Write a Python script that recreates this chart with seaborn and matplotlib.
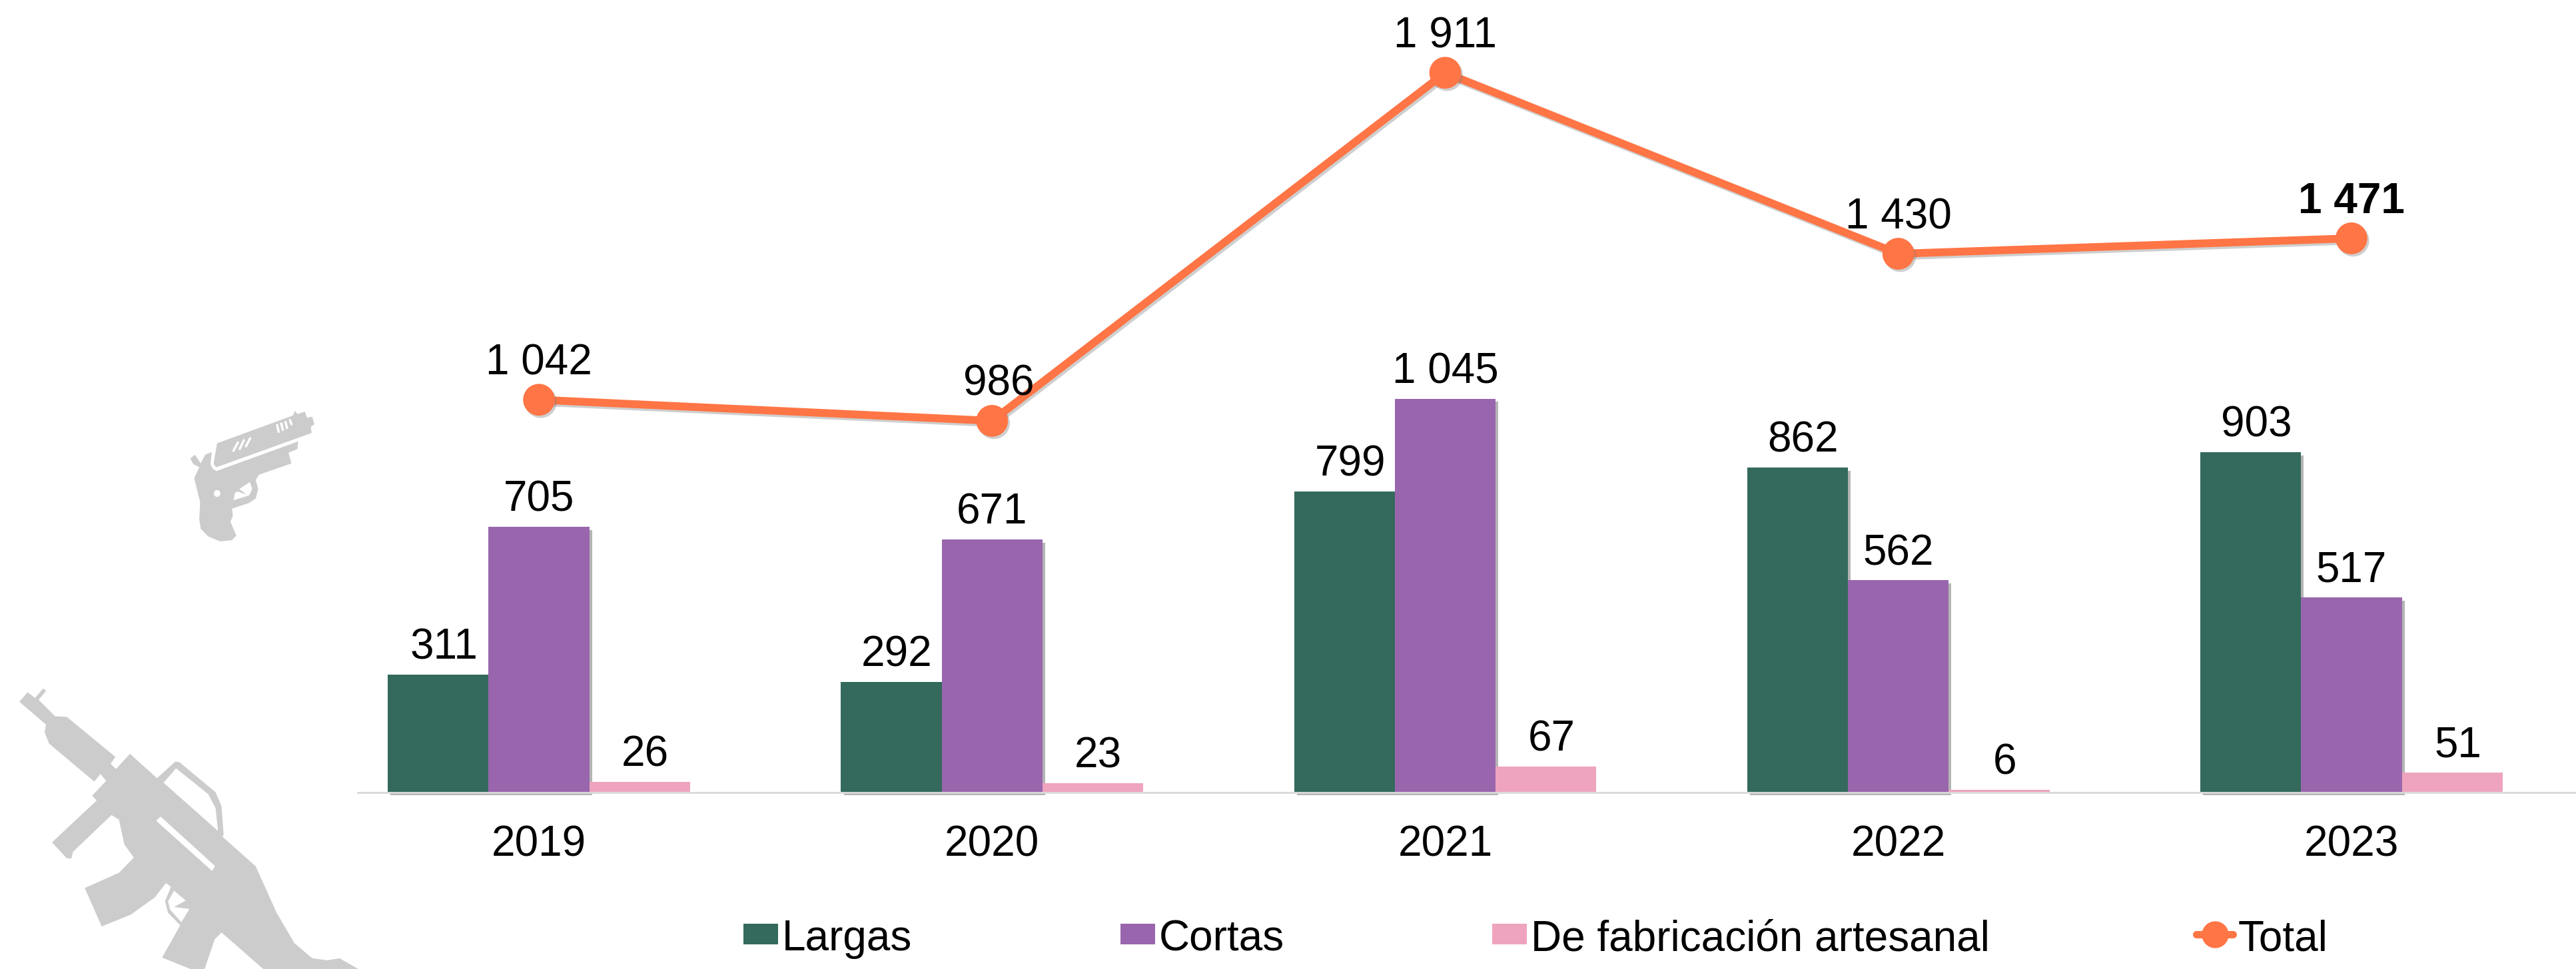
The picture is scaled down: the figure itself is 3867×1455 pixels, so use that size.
"""
plot.py
Armas por tipo, 2019-2023: grouped bars plus total line, with two grey gun icons.
"""
import pandas as pd
import matplotlib
matplotlib.use("Agg")
import matplotlib.pyplot as plt
import matplotlib.patheffects as pe
from matplotlib.lines import Line2D
from matplotlib.patches import Polygon, Ellipse, Rectangle
from matplotlib.transforms import Affine2D
import seaborn as sns

years = ["2019", "2020", "2021", "2022", "2023"]
largas = [311, 292, 799, 862, 903]
cortas = [705, 671, 1045, 562, 517]
artesanal = [26, 23, 67, 6, 51]
total = [1042, 986, 1911, 1430, 1471]
series_names = ["Largas", "Cortas", "De fabricación artesanal"]

GREEN, PURPLE, PINK, ORANGE = "#336A5C", "#9966AE", "#EEA4BF", "#FF7545"
ICON = "#CCCCCC"
W, H, DPI = 3867, 1455, 100

sns.set_theme(style="white")
plt.rcParams["font.family"] = ["Liberation Sans", "DejaVu Sans"]
FS = 46


def fmt(v):
    return f"{v:,}".replace(",", " ")


fig = plt.figure(figsize=(W / DPI, H / DPI), dpi=DPI)
# axes run from x=469 to just past the right edge, baseline at y=1189 px
ax = fig.add_axes([469 / W, (H - 1189) / H, (W - 469 + 3) / W, 1189 / H])

long_df = pd.DataFrame({"year": years, "Largas": largas, "Cortas": cortas,
                        "De fabricación artesanal": artesanal}).melt(
    id_vars="year", var_name="tipo", value_name="n")
sns.barplot(data=long_df, x="year", y="n", hue="tipo", hue_order=series_names,
            palette=[GREEN, PURPLE, PINK], width=0.667, gap=0, saturation=1,
            errorbar=None, legend=False, edgecolor="none", linewidth=0, ax=ax)
sns.pointplot(x=years, y=total, color=ORANGE, errorbar=None, markers="o",
              markersize=28, linewidth=8.5, ax=ax)

ax.set_xlim(-0.5, 4.5)
ax.set_ylim(0, 1189 / 0.565)
ax.set_xlabel("")
ax.set_ylabel("")
ax.set_yticks([])
ax.tick_params(axis="x", length=0, labelsize=FS, pad=35, colors="black")
sns.despine(ax=ax, left=True, top=True, right=True)
ax.spines["bottom"].set_color("#D9D9D9")
ax.spines["bottom"].set_linewidth(2)
ax.spines["bottom"].set_position(("outward", 1))
ax.spines["bottom"].set_bounds(-0.4, 4.5)

# soft-ish drop shadow on the two tall series
shadow = [pe.SimplePatchShadow(offset=(3, -3.5), shadow_rgbFace="#777777", alpha=0.55), pe.Normal()]
for cont in ax.containers[:2]:
    for b in cont:
        b.set_path_effects(shadow)
        b.set_clip_on(False)
ax.lines[0].set_path_effects([pe.SimpleLineShadow(offset=(2, -2.5), shadow_color="#777777", alpha=0.35), pe.Normal()])

# bar labels, nudged per series like the original
nudges = [6, 0, 6]
for cont, dx in zip(ax.containers, nudges):
    for b in cont:
        v = int(round(b.get_height()))
        ax.annotate(fmt(v), (b.get_x() + b.get_width() / 2, v),
                    xytext=(dx, 7.5), textcoords="offset points",
                    ha="center", va="bottom", fontsize=FS, color="black")

# total labels
for i, v in enumerate(total):
    ax.annotate(fmt(v), (i, v), xytext=(7 if i == 1 else 0, 18),
                textcoords="offset points", ha="center", va="bottom",
                fontsize=FS, color="black",
                fontweight="bold" if i == 4 else "normal")


# legend drawn by hand so spacing follows the original
def fx(x):
    return x / W


def fy(y):
    return (H - y) / H


for x0, name, col in zip([1116, 1682, 2240], series_names, [GREEN, PURPLE, PINK]):
    fig.add_artist(Rectangle((fx(x0), fy(1418)), 52 / W, 31 / H, color=col,
                             transform=fig.transFigure, lw=0))
    fig.text(fx(x0 + 58), fy(1404), name, fontsize=FS, va="center_baseline", color="black")
fig.add_artist(Line2D([fx(3297), fx(3352)], [fy(1403)] * 2, color=ORANGE, lw=8,
                      transform=fig.transFigure))
fig.add_artist(Line2D([fx(3325)], [fy(1403)], marker="o", ms=28, color=ORANGE, lw=0,
                      transform=fig.transFigure))
fig.text(fx(3360), fy(1404), "Total", fontsize=FS, va="center_baseline", color="black")

icon_tf = Affine2D().scale(1 / 2.24, -1 / 1.752).translate(0, H - 560)

rifle = [(65, 865), (93, 840), (118, 855), (145, 830), (155, 836), (130, 860), (185, 903),
         (225, 905), (388, 1010), (372, 1028), (390, 1042), (437, 1002), (528, 1066),
         (590, 1022), (605, 1025), (725, 1103), (745, 1140), (752, 1215), (748, 1220),
         (860, 1298), (930, 1420), (990, 1500), (1050, 1540), (1100, 1545), (1142, 1540),
         (1205, 1568), (885, 1568), (745, 1472), (722, 1490), (688, 1568), (640, 1568),
         (545, 1538), (606, 1453), (565, 1420), (555, 1390), (575, 1352), (558, 1342),
         (520, 1380), (440, 1425), (342, 1456), (285, 1355), (400, 1315), (450, 1275),
         (418, 1240), (400, 1175), (375, 1163), (245, 1260), (240, 1277), (225, 1277),
         (175, 1235), (195, 1220), (325, 1125), (310, 1112), (357, 1073), (338, 1055),
         (317, 1075), (165, 975), (150, 945), (155, 925)]
rifle_holes = [[(550, 1078), (592, 1040), (700, 1108), (725, 1145), (733, 1205)],
               [(525, 1178), (540, 1167), (723, 1297), (713, 1310)],
               [(585, 1362), (625, 1388), (585, 1405), (637, 1410), (610, 1445), (572, 1412), (565, 1390)]]
pistol_frame = [(640, 225), (655, 215), (675, 238), (690, 215), (712, 208), (708, 240), (715, 252),
                (728, 258), (1003, 180), (1000, 200), (970, 210), (980, 238), (870, 268),
                (860, 282), (868, 305), (860, 330), (838, 342), (780, 357), (783, 375),
                (775, 392), (795, 428), (780, 440), (740, 443), (700, 430), (675, 410),
                (670, 385), (673, 340), (653, 277), (670, 248), (650, 240)]
pistol_slide = [(730, 185), (985, 112), (992, 100), (1000, 108), (1025, 102), (1033, 118),
                (1050, 115), (1057, 135), (1045, 142), (1048, 158), (728, 248), (718, 240)]
pistol_hole = [(785, 335), (790, 315), (800, 312), (828, 320), (805, 305), (840, 287),
               (848, 305), (838, 322)]
vents = [((785, 205), (800, 183)), ((806, 200), (820, 177)), ((827, 193), (841, 172)),
         ((937, 155), (932, 137)), ((951, 150), (946, 133)), ((965, 145), (960, 129)),
         ((980, 135), (975, 124))]

for pts in [rifle, pistol_frame, pistol_slide]:
    fig.add_artist(Polygon(pts, closed=True, fc=ICON, ec="none", transform=icon_tf))
for pts in rifle_holes + [pistol_hole]:
    fig.add_artist(Polygon(pts, closed=True, fc="white", ec="none", transform=icon_tf))
fig.add_artist(Ellipse((730, 317), 22, 18, fc="white", ec="none", transform=icon_tf))
for a, b in vents:
    fig.add_artist(Line2D([a[0], b[0]], [a[1], b[1]], color="white", lw=2.5,
                          solid_capstyle="round", transform=icon_tf))

fig.savefig("out.png", dpi=DPI, facecolor="white")
